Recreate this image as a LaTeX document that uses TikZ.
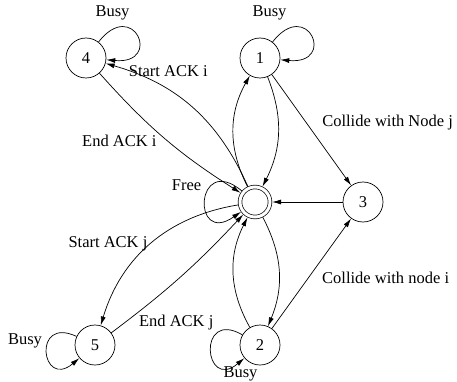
\documentclass[tikz,border=0pt]{standalone}
\usepackage{fontspec}
\setmainfont{Liberation Serif}
\usetikzlibrary{automata,arrows.meta,positioning}

\begin{document}
\begin{tikzpicture}[x=1pt,y=-1pt,>={Latex[length=9pt,width=5pt]},line width=0.7pt,node distance=1cm,on grid,
		font=\fontsize{16.5}{19}\selectfont,
		every state/.style={draw,minimum size=40pt,inner sep=0pt},
		lbl/.style={inner sep=1pt}]
		\useasboundingbox (0,0) rectangle (457,382);
		\node[state,accepting,minimum size=30pt,double distance=3pt,outer sep=2.1pt] (q_f) at (255,202) {};
		\node[state] [above right=144pt and 5pt of q_f] (q_1) {1};
		\node[state] [left=174pt of q_1] (q_4) {4};
		\node[state] [right=108pt of q_f] (q_3) {3};
		\node[state] [below right=143pt and 5pt of q_f] (q_2) {2};
		\node[state] [left=165pt of q_2] (q_5) {5};
		\path[->]
			(q_f) edge [out=140,in=215,looseness=7.5] node [lbl,pos=0.3,left=9pt] {Free} (q_f)
			(q_4) edge [out=52,in=-5,looseness=7.5] node [lbl,pos=0.25,above=5pt,xshift=-10pt] {Busy} (q_4)
			(q_1) edge [out=52,in=-5,looseness=7.5] node [lbl,pos=0.25,above=5pt,xshift=-27pt] {Busy} (q_1)
			(q_5) edge [out=155,in=220,looseness=5.8] node [lbl,pos=0.35,left=5pt] {Busy} (q_5)
			(q_2) edge [out=150,in=220,looseness=5.8] node [lbl,pos=0.85,anchor=north,shift={(12pt,1pt)}] {Busy} (q_2)
			(q_f) edge [bend right=25] node [lbl,pos=0.66,above=12pt] {Start ACK i} (q_4)
			(q_4) edge [bend right=8] node [lbl,pos=0.52,left=10pt] {End ACK i} (q_f)
			(q_f) edge [bend left=28] (q_1)
			(q_1) edge [bend left=24] (q_f)
			(q_1) edge node [lbl,pos=0.43,right=15pt] {Collide with Node j} (q_3)
			(q_3) edge (q_f)
			(q_2) edge node [lbl,pos=0.46,right=12.5pt] {Collide with node i} (q_3)
			(q_f) edge [bend left=25] (q_2)
			(q_2) edge [bend left=28] (q_f)
			(q_f) edge [bend right=32] node [lbl,pos=0.5,left=2pt] {Start ACK j} (q_5)
			(q_5) edge [bend right=5] node [lbl,pos=0.2,anchor=north west,shift={(-4pt,-4pt)}] {End ACK j} (q_f);
	\end{tikzpicture}
\end{document}
